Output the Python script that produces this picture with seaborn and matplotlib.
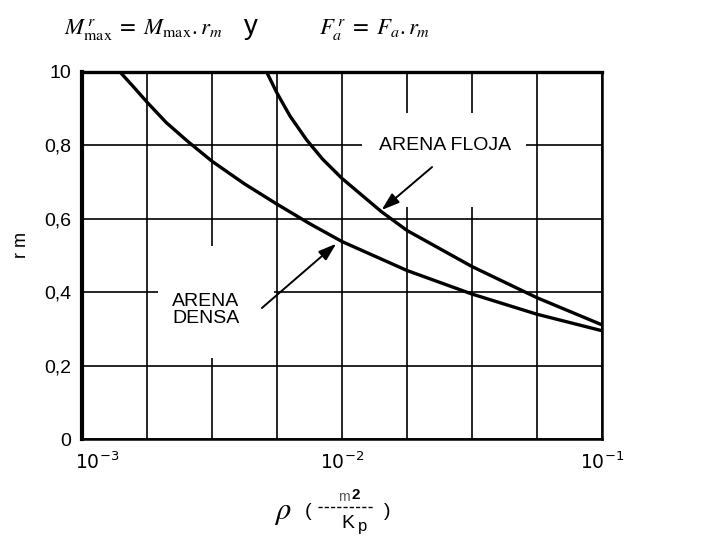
import matplotlib
matplotlib.use("Agg")
import matplotlib.pyplot as plt
from matplotlib.patches import Rectangle
from matplotlib.lines import Line2D
from matplotlib.ticker import FixedLocator, NullFormatter
from matplotlib.transforms import ScaledTranslation
import pandas as pd
import seaborn as sns

# Reduction factor r_m versus relative density parameter rho (m2/Kp)
rho_densa = [1.40e-3, 1.585e-3, 1.778e-3, 2.11e-3, 2.56e-3, 3.16e-3, 4.22e-3, 5.62e-3,
             7.50e-3, 1.0e-2, 1.78e-2, 3.16e-2, 5.62e-2, 1.0e-1]
rm_densa = [1.0, 0.958, 0.918, 0.862, 0.81, 0.757, 0.695, 0.640,
            0.587, 0.538, 0.459, 0.395, 0.340, 0.295]

rho_floja = [5.13e-3, 5.62e-3, 6.31e-3, 7.31e-3, 8.41e-3, 1.0e-2, 1.42e-2, 1.78e-2,
             3.16e-2, 5.62e-2, 1.0e-1]
rm_floja = [1.0, 0.943, 0.88, 0.815, 0.763, 0.710, 0.619, 0.568,
            0.470, 0.385, 0.311]

y_ticks = [0.0, 0.2, 0.4, 0.6, 0.8, 1.0]
y_tick_labels = ["0", "0,2", "0,4", "0,6", "0,8", "10"]
x_ticks = [1e-3, 1e-2, 1e-1]
x_tick_labels = [r"$10^{-3}$", r"$10^{-2}$", r"$10^{-1}$"]

sns.set_theme(style="white")
plt.rcParams["font.family"] = ["Liberation Sans", "DejaVu Sans"]
plt.rcParams["mathtext.fontset"] = "stix"

W, H = 710, 544
fig = plt.figure(figsize=(W / 100, H / 100), dpi=100)
fig.patch.set_facecolor("white")

# plot area in pixel terms
X0, X1, Y0, Y1 = 82, 602, 72, 439
ax = fig.add_axes([X0 / W, 1 - Y1 / H, (X1 - X0) / W, (Y1 - Y0) / H])
ax.set_facecolor("white")

df = pd.concat([
    pd.DataFrame({"rho": rho_densa, "rm": rm_densa, "arena": "densa"}),
    pd.DataFrame({"rho": rho_floja, "rm": rm_floja, "arena": "floja"}),
])
sns.lineplot(data=df, x="rho", y="rm", hue="arena", estimator=None,
             palette={"densa": "black", "floja": "black"}, linewidth=2.4,
             legend=False, ax=ax, zorder=4)

ax.set_xscale("log")
ax.set_xlim(1e-3, 1e-1)
ax.set_ylim(0, 1.0)

# quarter-decade grid
ax.set_xticks(x_ticks, x_tick_labels)
ax.xaxis.set_minor_locator(FixedLocator([10 ** (-3 + k / 4) for k in range(1, 8)]))
ax.xaxis.set_minor_formatter(NullFormatter())
ax.set_yticks(y_ticks, y_tick_labels)
ax.set_axisbelow(True)
ax.grid(which="both", color="black", linewidth=1.2)
ax.tick_params(which="both", length=0)
ax.tick_params(axis="y", pad=8, labelsize=14, labelcolor="black")
ax.tick_params(axis="x", pad=9, labelsize=13.5, labelcolor="black")
xlabels = ax.get_xticklabels()
for lbl in xlabels:
    lbl.set_math_fontfamily("dejavusans")
xlabels[0].set_transform(xlabels[0].get_transform() +
                         ScaledTranslation(11 / 72, 0, fig.dpi_scale_trans))
ax.set_xlabel("")
ax.set_ylabel("")

for side, lw in {"left": 3.0, "top": 2.4, "right": 1.8, "bottom": 1.8}.items():
    ax.spines[side].set_visible(True)
    ax.spines[side].set_color("black")
    ax.spines[side].set_linewidth(lw)


def axfrac(px, py):
    return (px - X0) / (X1 - X0), (Y1 - py) / (Y1 - Y0)


def blank(px0, py0, px1, py1):
    (ax0, ay1), (ax1, ay0) = axfrac(px0, py0), axfrac(px1, py1)
    ax.add_patch(Rectangle((ax0, ay0), ax1 - ax0, ay1 - ay0, transform=ax.transAxes,
                           facecolor="white", edgecolor="none", zorder=1))


# clear space around the curve labels
blank(362, 113, 526, 207)
blank(158, 246, 274, 358)

ax.text(*axfrac(445, 145), "ARENA FLOJA", transform=ax.transAxes, ha="center",
        va="center", fontsize=14, color="black", zorder=5)
ax.text(*axfrac(206, 310), "ARENA\nDENSA", transform=ax.transAxes, ha="center",
        va="center", fontsize=14, color="black", linespacing=1.05, zorder=5)

arrow = dict(arrowstyle="-|>,head_length=0.9,head_width=0.3", color="black", lw=1.4,
             shrinkA=0, shrinkB=0)
ax.annotate("", xy=(0.0142, 0.624), xytext=(0.0222, 0.741), arrowprops=arrow, zorder=5)
ax.annotate("", xy=(0.0095, 0.532), xytext=(0.00492, 0.357), arrowprops=arrow, zorder=5)

# equations above the chart
fig.text(64 / W, 1 - 34 / H, r"$M^{\,r}_{\max}\;=\;M_{\max}.r_m$", fontsize=16.5,
         ha="left", va="baseline", color="black")
fig.text(251 / W, 1 - 34 / H, "y", fontsize=20, ha="center", va="baseline", color="black")
fig.text(319 / W, 1 - 34 / H, r"$F^{\,r}_{a}\;=\;F_{a}.r_m$", fontsize=16.5,
         ha="left", va="baseline", color="black")

# axis titles
fig.text(21 / W, 1 - 245 / H, "r m", rotation=90, ha="center", va="center",
         fontsize=13, color="black")
fig.text(283 / W, 1 - 512 / H, r"$\rho$", fontsize=22, ha="center", va="center", color="black")
fig.text(308 / W, 1 - 511 / H, "(", fontsize=14, ha="center", va="center", color="black")
fig.text(387 / W, 1 - 511 / H, ")", fontsize=14, ha="center", va="center", color="black")
fig.text(344 / W, 1 - 497 / H, "m", fontsize=10, ha="center", va="center", color="#555555")
fig.text(356 / W, 1 - 495 / H, "2", fontsize=11, ha="center", va="center",
         color="black", fontweight="bold")
fig.add_artist(Line2D([318 / W, 374 / W], [1 - 507 / H, 1 - 507 / H], transform=fig.transFigure,
                      color="black", lw=1.0, linestyle=(0, (3, 1.5))))
fig.text(348 / W, 1 - 523 / H, "K", fontsize=14, ha="center", va="center", color="black")
fig.text(363 / W, 1 - 527 / H, "p", fontsize=12, ha="center", va="center", color="black")

fig.savefig("out.png", dpi=100, facecolor="white")
